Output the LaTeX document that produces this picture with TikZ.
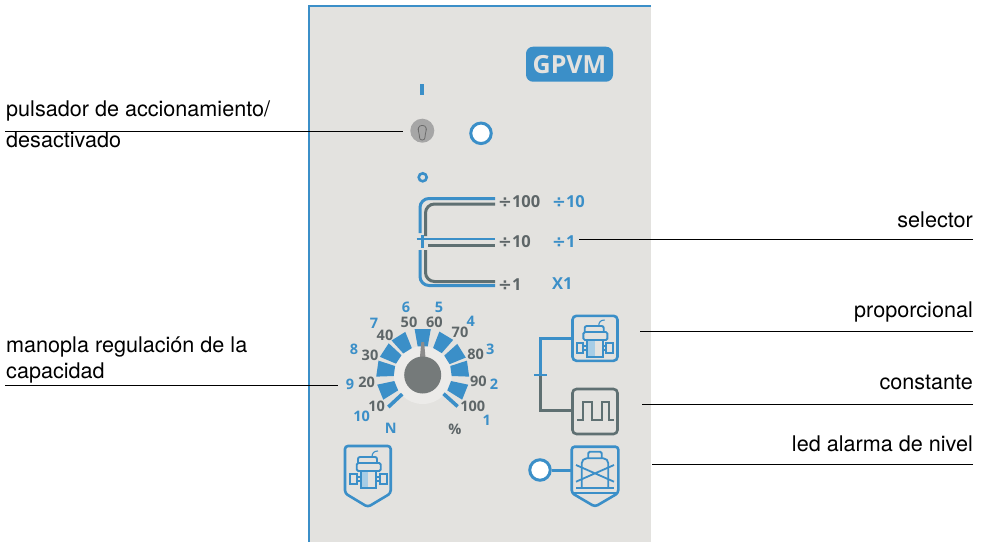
\documentclass[tikz,border=0pt]{standalone}
\usepackage{fontspec}
\setmainfont{TeX Gyre Heros}
\newfontfamily\panelf{Open Sans}
\newfontfamily\divf{DejaVu Sans}
\newcommand{\dv}{{\divf\bfseries ÷}}
\definecolor{pblue}{HTML}{3B8FC8}
\definecolor{pgrey}{HTML}{5F7072}
\definecolor{pbg}{HTML}{E3E2DF}
\definecolor{pring}{HTML}{ECEBE9}
\definecolor{pknob}{HTML}{757A7A}
\definecolor{ptxt}{HTML}{5E6668}
\tikzset{
  callout/.style={font=\fontsize{21.6}{24}\selectfont,inner sep=0pt,text=black},
  leader/.style={draw=black,line width=0.75pt},
  iconbox/.style={draw=#1,line width=2.6pt,rounded corners=4pt,minimum width=45pt,minimum height=45pt,inner sep=0pt,fill=pbg},
  led/.style={circle,draw=pblue,fill=white,line width=3pt,minimum size=20.5pt,inner sep=0pt},
  tick/.style={font=\panelf\bfseries\fontsize{14.5}{15}\selectfont,inner sep=0pt,text=ptxt},
  tickb/.style={tick,text=pblue},
  sel/.style={font=\panelf\bfseries\fontsize{16.5}{17}\selectfont,inner sep=0pt,text=ptxt},
  selb/.style={sel,text=pblue},
  wire/.style={line width=3pt,rounded corners=9pt},
  pumpicon/.pic={
    \begin{scope}[draw=pblue,line width=1.9pt]
      \fill[pblue!45] (15.7,25) rectangle (23,42);
      \draw (15.7,25) rectangle (31,42);
      \draw[rounded corners=1.5pt] (11.7,17) rectangle (35.7,25);
      \draw[rounded corners=2pt] (13,17) -- (13,11) -- (32,11) -- (32,17);
      \draw (5,28) rectangle (11.7,38);
      \draw (34.7,28) rectangle (41.7,38);
      \draw (11.7,31) -- (15.7,31) (11.7,35) -- (15.7,35);
      \draw (31,31) -- (34.7,31) (31,35) -- (34.7,35);
      \draw[line width=1.1pt] (27,11) .. controls (27,7) and (29,5) .. (33,5);
    \end{scope}
  }
}
\begin{document}
\begin{tikzpicture}[x=1pt,y=-1pt]
\useasboundingbox (0,0) rectangle (986,542);
% panel
\fill[pbg] (309,6) rectangle (651,542);
\draw[pblue,line width=1.8pt] (651,6) -- (309,6);
\draw[pblue,line width=2.6pt] (309,5.2) -- (309,542);
% badge
\node[fill=pblue,rounded corners=7pt,minimum width=87pt,minimum height=35pt,inner sep=0pt,text=pbg,font=\panelf\bfseries\fontsize{25}{25}\selectfont] (badge) at (569.5,64.2) {GPVM};
% switch
\fill[pblue] (420.3,84) rectangle (424.3,94.5);
\node[circle,fill=black!35,minimum size=24pt,inner sep=0pt] (sw) at (422.3,130.7) {};
\draw[black!58,line width=0.8pt,rounded corners=2.5pt] (419.5,140) -- (419.5,135) -- (418,130) -- (419,125.5) -- (425.5,125.5) -- (426.5,130) -- (425,135) -- (425,140) -- cycle;
\node[led] (ledtop) at (481,133.3) {};
\node[circle,draw=pblue,line width=2.6pt,minimum size=8pt,inner sep=0pt] (off) at (422.7,177.3) {};
% selector
\coordinate (sa) at (495,198.5);
\coordinate (sb) at (495,204);
\coordinate (sc) at (495,239);
\coordinate (sd) at (495,245);
\coordinate (se) at (495,281.5);
\coordinate (sf) at (495,285.5);
\draw[wire,pgrey] (sb) -- (425.5,204) -- (425.5,236);
\draw[wire,pgrey,rounded corners=0pt] (428,245) -- (sd);
\draw[wire,pgrey] (425.5,250) -- (425.5,281.5) -- (se);
\draw[wire,pblue] (sa) -- (420,198.5) -- (420,233);
\draw[pblue,line width=2.6pt] (416.5,239) -- (sc);
\draw[pblue,line width=2.6pt] (422.3,235) -- (422.3,248);
\draw[wire,pblue] (420,250) -- (420,285.5) -- (sf);
\node[sel,anchor=west] (s1) at (498,202) {\dv100};
\node[selb,anchor=west] (s2) at (552,202) {\dv10};
\node[sel,anchor=west] (s3) at (498,242) {\dv10};
\node[selb,anchor=west] (s4) at (552,242) {\dv1};
\node[sel,anchor=west] (s5) at (498,285) {\dv1};
\node[selb,anchor=west] (s6) at (552,284) {X1};
% dial
\begin{scope}[shift={(422.7,375)},y=1pt]
  \fill[pring] (0,0) circle (29);
  \foreach \a in {-22,8,32,59,90,122,147,172,202}{
    \fill[pblue] (\a-10:29) -- (\a-10:46.5) -- (\a+10:46.5) -- (\a+10:29) -- cycle;
  }
  \draw[pblue,line width=3.6pt] (-42:28) -- (-42:47);
  \draw[pblue,line width=3.6pt] (223:28) -- (223:47);
  \fill[black!45] (-3,15) -- (-1.4,33) -- (1.4,33) -- (3,15) -- cycle;
\end{scope}
\node[circle,fill=pknob,minimum size=37pt,inner sep=0pt] (knob) at (422.7,375) {};
\foreach \t/\x/\y/\s in {50/409/322.3/tick,60/434.3/322.3/tick,70/460/332.7/tick,80/475.7/354.3/tick,90/478.3/381.7/tick,100/472.7/406.7/tick,40/385/335/tick,30/370/355.7/tick,20/366.7/382.7/tick,10/376.7/406.7/tick,\%/455/429.3/tick,6/406/307.3/tickb,5/439/307.3/tickb,4/470.7/321/tickb,3/490.3/349/tickb,2/494/384.3/tickb,1/486.7/420/tickb,7/374/323/tickb,8/354/349.3/tickb,9/350/384/tickb,10/361.7/416.7/tickb,N/390.7/428.3/tickb}{
  \node[\s] at (\x,\y) {\t};
}
% mode icons
\node[iconbox=pblue] (prop) at (595,338.3) {};
\pic at (571.7,315) {pumpicon};
\node[iconbox=pgrey] (cons) at (595,411.5) {};
\draw[pgrey,line width=2.3pt] (577,420) -- (583.3,420) -- (583.3,401.7) -- (591.7,401.7) -- (591.7,420) -- (601.7,420) -- (601.7,401.7) -- (609.3,401.7) -- (609.3,420) -- (614,420);
\coordinate (junc) at (540,374.7);
\draw[pgrey,line width=3pt] (junc) -- (540,410.7) -- (cons.west |- 0,410.7);
\draw[pblue,line width=3pt] (prop.west |- 0,338) -- (540,338) -- (junc);
\draw[pblue,line width=2pt] (534,374.7) -- (546.5,374.7);
% tank icon
\draw[pblue,line width=2.6pt,rounded corners=3pt] (571.7,493) -- (571.7,446.7) -- (618.3,446.7) -- (618.3,493) -- (595,506.7) -- cycle;
\begin{scope}[draw=pblue,line width=1.8pt]
  \draw[rounded corners=5pt] (581.7,488) -- (581.7,458.3) -- (608.3,458.3) -- (608.3,488);
  \draw[rounded corners=1.5pt] (588.3,458.3) -- (588.3,451.7) -- (601.7,451.7) -- (601.7,458.3);
  \draw (576,465) -- (614,481.7) (576,481.7) -- (614,465);
  \draw (576,488.3) -- (614,488.3);
  \draw[line width=2.4pt] (571.7,493) -- (618.3,493);
\end{scope}
\node[led] (ledlow) at (540,470) {};
\coordinate (tankin) at (571.7,470);
\draw[pblue,line width=3pt] (ledlow) -- (tankin);
% lower-left icon
\draw[pblue,line width=2.6pt,rounded corners=3pt] (345,493.3) -- (345,446) -- (390.7,446) -- (390.7,493.3) -- (367.8,507) -- cycle;
\pic at (345,446) {pumpicon};
% callouts
\node[callout,anchor=base west] (l1) at (6,116) {pulsador de accionamiento/};
\node[callout,anchor=base west] (l2) at (6,147.5) {desactivado};
\node[callout,anchor=base west] (l3) at (6,352) {manopla regulación de la};
\node[callout,anchor=base west] (l4) at (6,378) {capacidad};
\node[callout,anchor=base east] (r1) at (973,227) {selector};
\node[callout,anchor=base east] (r2) at (973,317) {proporcional};
\node[callout,anchor=base east] (r3) at (973,389) {constante};
\node[callout,anchor=base east] (r4) at (973,451) {led alarma de nivel};
\coordinate (e1) at (5,131); \coordinate (t1) at (403,131);
\coordinate (e2) at (5,385); \coordinate (t2) at (338,385);
\coordinate (e3) at (973,239); \coordinate (t3) at (579,239);
\coordinate (e4) at (973,331); \coordinate (t4) at (640,331);
\coordinate (e5) at (973,404); \coordinate (t5) at (642,404);
\coordinate (e6) at (973,464); \coordinate (t6) at (652,464);
\draw[leader] (e1) -- (t1);
\draw[leader] (e2) -- (t2);
\draw[leader] (e3) -- (t3);
\draw[leader] (e4) -- (t4);
\draw[leader] (e5) -- (t5);
\draw[leader] (e6) -- (t6);
\end{tikzpicture}
\end{document}
